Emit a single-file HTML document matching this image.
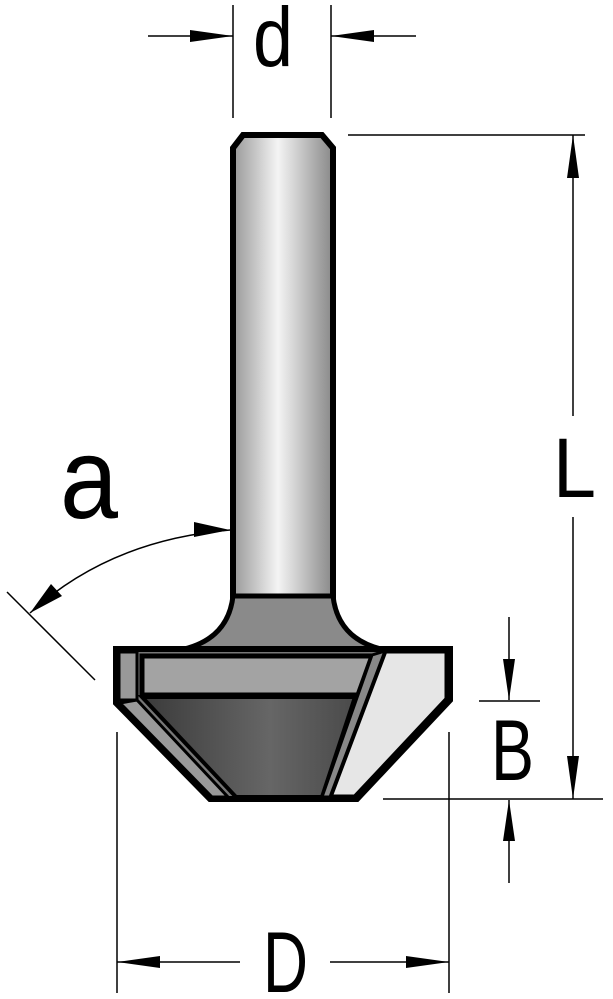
<!DOCTYPE html>
<html><head><style>body{margin:0;background:#fff}svg{display:block}</style></head><body>
<svg width="613" height="999" viewBox="0 0 613 999" xmlns="http://www.w3.org/2000/svg">
<defs>
<linearGradient id="sh" x1="0" x2="1"><stop offset="0" stop-color="#999"/><stop offset=".45" stop-color="#f4f4f4"/><stop offset="1" stop-color="#888"/></linearGradient>
<linearGradient id="cone" x1="0" x2="1"><stop offset="0" stop-color="#3a3a3a"/><stop offset=".6" stop-color="#666"/><stop offset="1" stop-color="#4a4a4a"/></linearGradient>
</defs>
<g stroke="#000" stroke-width="1.5" fill="none">
<line x1="233" y1="5" x2="233" y2="118"/><line x1="331" y1="5" x2="331" y2="118"/>
<line x1="148" y1="36" x2="233" y2="36"/><line x1="331" y1="36" x2="416" y2="36"/>
<line x1="348" y1="135" x2="585" y2="135"/><line x1="383" y1="799" x2="603" y2="799"/>
<line x1="573" y1="135" x2="573" y2="416"/><line x1="573" y1="517" x2="573" y2="799"/>
<line x1="509" y1="617" x2="509" y2="700"/><line x1="479" y1="701" x2="540" y2="701"/>
<line x1="509" y1="800" x2="509" y2="883"/>
<line x1="117" y1="732" x2="117" y2="993"/><line x1="449" y1="732" x2="449" y2="993"/>
<line x1="117" y1="962" x2="240" y2="962"/><line x1="330" y1="962" x2="449" y2="962"/>
<line x1="7" y1="592" x2="95" y2="680"/>
<path d="M30 613 Q110 540 230 530"/>
</g>
<g fill="#000">
<polygon points="233,36 190,30 190,42"/><polygon points="331,36 374,30 374,42"/>
<polygon points="573,135 567,178 579,178"/><polygon points="573,799 567,756 579,756"/>
<polygon points="509,700 503,659 515,659"/><polygon points="509,800 503,841 515,841"/>
<polygon points="117,962 160,956 160,968"/><polygon points="449,962 406,956 406,968"/>
<polygon points="230,530 194,522 194,537"/><polygon points="30,613 51,584 62,596"/>
</g>
<path d="M243 135 L322 135 L333 148 L333 598 L233 598 L233 148 Z" fill="url(#sh)" stroke="#000" stroke-width="6"/>
<path d="M233 596 L333 596 Q338 640 385 650 L180 650 Q228 640 233 596 Z" fill="#8a8a8a" stroke="#000" stroke-width="5"/>
<path d="M116 649 L450 649 L450 700 L357 799 L210 799 L116 703 Z" fill="#777" stroke="#000" stroke-width="6"/>
<path d="M119 652 L137 652 L137 700 L119 700 Z" fill="#999" stroke="#000" stroke-width="3"/>
<path d="M120 703 L137 700 L228 797 L212 797 Z" fill="#999" stroke="#000" stroke-width="3"/>
<path d="M142 656 L372 656 L358 695 L142 695 Z" fill="#a3a3a3" stroke="#000" stroke-width="5"/>
<path d="M142 697 L355 697 L322 797 L236 797 Z" fill="url(#cone)" stroke="#000" stroke-width="4"/>
<path d="M385 651 L447 651 L447 699 L355 797 L330 797 Z" fill="#e6e6e6" stroke="#000" stroke-width="5"/>
<path d="M372 655 L385 651 L330 797 L322 797 Z" fill="#888" stroke="#000" stroke-width="3"/>
<g font-family="Liberation Sans, sans-serif" fill="#000">
<text x="253" y="66" font-size="84" textLength="40" lengthAdjust="spacingAndGlyphs">d</text>
<text x="60" y="518" font-size="115" textLength="58" lengthAdjust="spacingAndGlyphs">a</text>
<text x="491" y="780" font-size="86" textLength="43" lengthAdjust="spacingAndGlyphs">B</text>
<text x="553" y="497" font-size="84" textLength="43" lengthAdjust="spacingAndGlyphs">L</text>
<text x="263" y="992" font-size="86" textLength="45" lengthAdjust="spacingAndGlyphs">D</text>
</g>
</svg>
</body></html>
